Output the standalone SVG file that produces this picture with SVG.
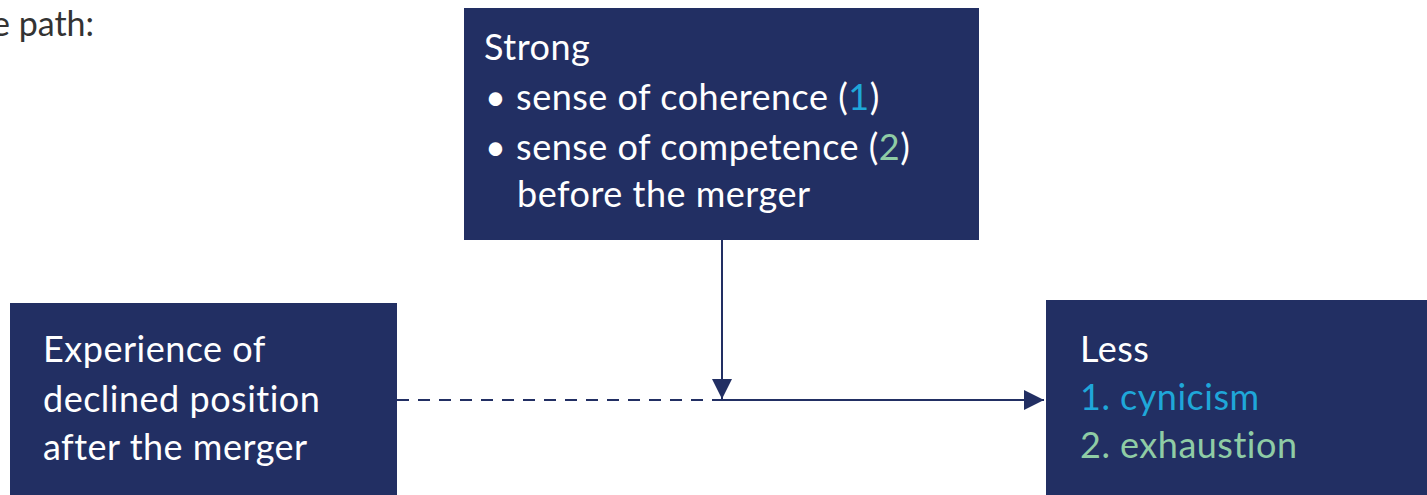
<svg xmlns="http://www.w3.org/2000/svg" width="1427" height="495" viewBox="0 0 1427 495">
  <style>
    .box { fill: #222f63; }
    .t { font-family: Lato, "Open Sans", sans-serif; font-size: 36px; letter-spacing: 0.5px; fill: #ffffff; }
    .c1 { fill: #1fa7d9; }
    .c2 { fill: #8fcca5; }
    .head { font-family: Lato, "Open Sans", sans-serif; font-size: 34px; fill: #333333; }
    .line { stroke: #222f63; stroke-width: 2; fill: none; }
    .dash { stroke-dasharray: 12 9; }
  </style>
  <defs>
    <marker id="arrowBig" viewBox="0 0 20 20" refX="20" refY="10" markerWidth="20" markerHeight="20" markerUnits="userSpaceOnUse" orient="auto">
      <path d="M0,0 L20,10 L0,20 z" fill="#222f63"/>
    </marker>
  </defs>

  <text class="head" x="-8" y="36">e path:</text>

  <g id="connectors">
    <line class="line dash" x1="397" y1="400" x2="722" y2="400"/>
    <line class="line" x1="722" y1="400" x2="1044" y2="400" marker-end="url(#arrowBig)"/>
    <line class="line" x1="722" y1="240" x2="722" y2="399" marker-end="url(#arrowBig)"/>
  </g>

  <g id="node-strong">
    <rect class="box" x="464" y="8" width="515" height="232"/>
    <text class="t" x="484" y="60">Strong</text>
    <text class="t" x="485" y="110">• sense of coherence (<tspan class="c1">1</tspan>)</text>
    <text class="t" x="485" y="160">• sense of competence (<tspan class="c2">2</tspan>)</text>
    <text class="t" x="517" y="207">before the merger</text>
  </g>

  <g id="node-experience">
    <rect class="box" x="10" y="303" width="387" height="200"/>
    <text class="t" x="43" y="362">Experience of</text>
    <text class="t" x="43" y="412">declined position</text>
    <text class="t" x="43" y="460">after the merger</text>
  </g>

  <g id="node-less">
    <rect class="box" x="1046" y="300" width="390" height="200"/>
    <text class="t" x="1080" y="362">Less</text>
    <text class="t c1" x="1080" y="410">1. cynicism</text>
    <text class="t c2" x="1080" y="458">2. exhaustion</text>
  </g>
</svg>
